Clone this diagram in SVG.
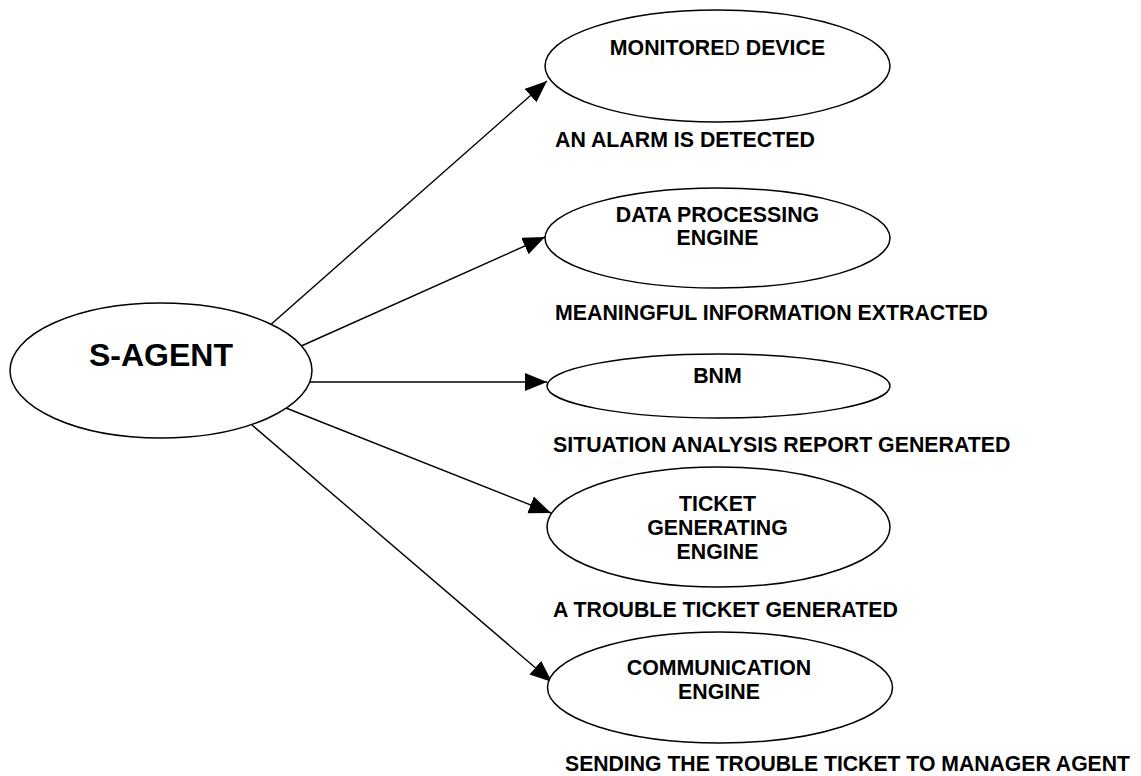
<svg xmlns="http://www.w3.org/2000/svg" width="1141" height="776" viewBox="0 0 1141 776">
<defs>
<style>
.node{fill:#fff;stroke:#000;stroke-width:1.5}
.lbl{font-family:"Liberation Sans",Arial,sans-serif;font-weight:bold;font-size:21.33px;fill:#000;text-anchor:middle}
.cap{font-family:"Liberation Sans",Arial,sans-serif;font-weight:bold;font-size:21.33px;fill:#000}
.edge{stroke:#000;stroke-width:1.4;fill:none;marker-end:url(#arr)}
</style>
<marker id="arr" markerUnits="userSpaceOnUse" markerWidth="24" markerHeight="20" refX="22" refY="9" orient="auto">
<path d="M0,0 L22,9 L0,18 Z" fill="#000"/>
</marker>
</defs>
<rect width="1141" height="776" fill="#fff"/>
<g id="connectors">
<line class="edge" x1="268" y1="327" x2="547" y2="81"/>
<line class="edge" x1="299" y1="347" x2="545" y2="237"/>
<line class="edge" x1="310" y1="382" x2="547" y2="382"/>
<line class="edge" x1="286" y1="408" x2="551" y2="513"/>
<line class="edge" x1="252" y1="425" x2="552" y2="682"/>
</g>
<g id="s-agent">
<ellipse class="node" cx="161" cy="370.5" rx="151" ry="67.5"/>
<text x="161" y="366" font-family="Liberation Sans, Arial, sans-serif" font-weight="bold" font-size="32" text-anchor="middle">S-AGENT</text>
</g>
<g id="monitored-device">
<ellipse class="node" cx="717.5" cy="66" rx="172.5" ry="56"/>
<text class="lbl" x="717.5" y="55">MONITORE<tspan font-weight="normal">D</tspan> DEVICE</text>
</g>
<g id="data-processing-engine">
<ellipse class="node" cx="717.5" cy="238" rx="172.5" ry="50"/>
<text class="lbl" x="717.5" y="222">DATA PROCESSING</text>
<text class="lbl" x="717.5" y="245">ENGINE</text>
</g>
<g id="bnm">
<ellipse class="node" cx="718.5" cy="386" rx="171.5" ry="32"/>
<text class="lbl" x="717.5" y="383">BNM</text>
</g>
<g id="ticket-generating-engine">
<ellipse class="node" cx="718.5" cy="527" rx="171.5" ry="60"/>
<text class="lbl" x="717.5" y="511">TICKET</text>
<text class="lbl" x="717.5" y="535">GENERATING</text>
<text class="lbl" x="717.5" y="559">ENGINE</text>
</g>
<g id="communication-engine">
<ellipse class="node" cx="720" cy="687.5" rx="172.5" ry="55.5"/>
<text class="lbl" x="719" y="675">COMMUNICATION</text>
<text class="lbl" x="719" y="699">ENGINE</text>
</g>
<g id="captions">
<text class="cap" x="555" y="147">AN ALARM IS DETECTED</text>
<text class="cap" x="555" y="320">MEANINGFUL INFORMATION EXTRACTED</text>
<text class="cap" x="553" y="452">SITUATION ANALYSIS REPORT GENERATED</text>
<text class="cap" x="553" y="617">A TROUBLE TICKET GENERATED</text>
<text class="cap" x="565" y="771" textLength="565" lengthAdjust="spacingAndGlyphs">SENDING THE TROUBLE TICKET TO MANAGER AGENT</text>
</g>
</svg>
